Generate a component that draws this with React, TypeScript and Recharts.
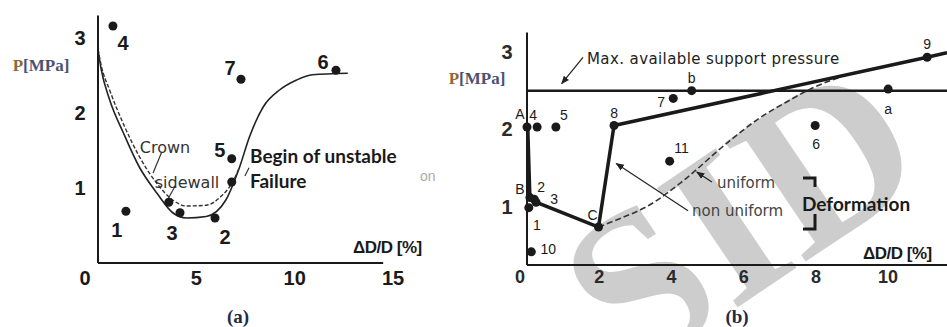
import React from 'react'
import { ComposedChart, Line, Scatter, XAxis, YAxis, ReferenceLine } from 'recharts'

// ---- panel (a) ----
const A_X_TICKS = [0, 5, 10, 15]
const A_Y_TICKS = [1, 2, 3]
const A_SOLID: [number, number][] = [
  [0, 2.85], [0.15, 2.6], [0.6, 2.17], [1.3, 1.73], [2.1, 1.28], [3.0, 0.93], [3.8, 0.67],
  [4.5, 0.6], [5.5, 0.62], [6.5, 0.84], [7.2, 1.28], [7.7, 1.68], [8.4, 2.08], [9.25, 2.31],
  [10.1, 2.44], [10.9, 2.51], [12.7, 2.53],
]
const A_DASHED: [number, number][] = [
  [0, 2.85], [0.15, 2.65], [0.6, 2.3], [1.3, 1.85], [2.1, 1.42], [3.0, 1.06], [3.8, 0.84],
  [4.5, 0.76], [5.5, 0.77], [6.3, 0.9], [6.8, 1.06], [7.2, 1.28],
]
const A_POINTS = [
  { id: '4', x: 0.76, y: 3.16 },
  { id: '1', x: 1.42, y: 0.69 },
  { id: '3', x: 4.17, y: 0.67 },
  { id: '2', x: 5.95, y: 0.6 },
  { id: '5', x: 6.8, y: 1.39 },
  { id: '7', x: 7.27, y: 2.45 },
  { id: '6', x: 12.1, y: 2.57 },
  { id: '', x: 3.6, y: 0.81 },
  { id: '', x: 6.8, y: 1.08 },
]

// ---- panel (b) ----
const B_X_TICKS = [0, 2, 4, 6, 8, 10]
const B_Y_TICKS = [1, 2, 3]
const B_MAX_PRESSURE = 2.5
const B_NON_UNIFORM: [number, number][] = [
  [0.02, 2.03], [0.08, 1.12], [0.25, 1.06], [1.98, 0.74], [2.41, 2.05], [11.08, 2.93], [11.63, 2.99],
]
const B_UNIFORM: [number, number][] = [
  [1.98, 0.74], [2.42, 0.82], [3.45, 1.04], [4.28, 1.32], [5.58, 1.84], [6.42, 2.14],
  [7.25, 2.37], [7.98, 2.55], [8.72, 2.68],
]
const B_POINTS = [
  { id: 'A', x: 0.0, y: 2.03 },
  { id: '4', x: 0.28, y: 2.03 },
  { id: '5', x: 0.8, y: 2.03 },
  { id: 'B', x: 0.08, y: 1.12 },
  { id: '2', x: 0.2, y: 1.1 },
  { id: '3', x: 0.25, y: 1.06 },
  { id: '1', x: 0.05, y: 0.99 },
  { id: '10', x: 0.12, y: 0.42 },
  { id: 'C', x: 1.98, y: 0.74 },
  { id: '8', x: 2.41, y: 2.05 },
  { id: '11', x: 3.95, y: 1.59 },
  { id: '7', x: 4.05, y: 2.4 },
  { id: 'b', x: 4.56, y: 2.5 },
  { id: '6', x: 7.98, y: 2.05 },
  { id: 'a', x: 10.0, y: 2.52 },
  { id: '9', x: 11.08, y: 2.93 },
]

// label placement (px from the dot)
const A_LABEL_OFFSET: Record<string, [number, number]> = {
  '4': [10, 17], '1': [-9, 19], '3': [-8, 20], '2': [10, 19], '7': [-11, -11], '5': [-12, -9], '6': [-13, -8],
}
const B_LABEL_OFFSET: Record<string, [number, number]> = {
  A: [-7, -13], '4': [-4, -12], '5': [8, -12], B: [-10, -9], '2': [7, -12], '3': [18, -3],
  '1': [8, 17], '10': [17, -3], C: [-6, -12], '8': [0, -13], '11': [12, -13], '7': [-12, 4],
  b: [0, -13], '6': [1, 18], a: [0, 20], '9': [0, -13],
}

const toXY = (pts: [number, number][]) => pts.map(([x, y]) => ({ x, y }))

const SANS = '"Liberation Sans", Arial, sans-serif'
const WIDE = '"DejaVu Sans", sans-serif'
const SERIF = '"Liberation Serif", "DejaVu Serif", serif'
const CAL = 'Lato, "Open Sans", sans-serif'
const INK = '#1a1a1a'

function makeTick(size: number, weight: number, dy: number, dx: (v: number) => number, fill = INK) {
  return (p: any) => (
    <text
      x={p.x + dx(p.payload.value)}
      y={p.y + dy}
      textAnchor="middle"
      dominantBaseline="central"
      fontFamily={SANS}
      fontSize={size}
      fontWeight={weight}
      fill={fill}
    >
      {p.payload.value}
    </text>
  )
}

function makeDot(offsets: Record<string, [number, number]>, r: number, size: number, weight: number) {
  return (p: any) => {
    const { cx, cy, payload } = p
    const off = offsets[payload.id]
    return (
      <g>
        <circle cx={cx} cy={cy} r={r} fill={INK} />
        {off && (
          <text
            x={cx + off[0]}
            y={cy + off[1]}
            textAnchor="middle"
            dominantBaseline="central"
            fontFamily={SANS}
            fontSize={size}
            fontWeight={weight}
            fill={INK}
          >
            {payload.id}
          </text>
        )}
      </g>
    )
  }
}

function PanelA() {
  return (
    <ComposedChart width={440} height={327} margin={{ top: 15.5, right: 47, bottom: 34, left: 68 }}>
      <XAxis
        type="number"
        dataKey="x"
        domain={[0, 15]}
        ticks={A_X_TICKS}
        axisLine={false}
        tickLine={false}
        tickSize={0}
        tickMargin={0}
        height={30}
        tick={makeTick(20, 700, 15, (v) => (v === 0 ? -13 : 0))}
      />
      <YAxis
        type="number"
        dataKey="y"
        domain={[0, 3.3]}
        ticks={A_Y_TICKS}
        axisLine={{ stroke: INK, strokeWidth: 2 }}
        tickLine={false}
        tickSize={0}
        tickMargin={0}
        width={30}
        tick={makeTick(20, 700, 0, () => -18)}
      />
      <ReferenceLine segment={[{ x: 0, y: 0 }, { x: 14.5, y: 0 }]} stroke={INK} strokeWidth={2} ifOverflow="visible" />
      <ReferenceLine segment={[{ x: 3.24, y: 1.48 }, { x: 2.8, y: 1.2 }]} stroke="#333" strokeWidth={1.2} />
      <ReferenceLine segment={[{ x: 3.91, y: 1.02 }, { x: 3.49, y: 0.82 }]} stroke="#333" strokeWidth={1.2} />
      <ReferenceLine segment={[{ x: 7.47, y: 1.16 }, { x: 7.68, y: 1.27 }]} stroke="#333" strokeWidth={1.2} />
      <Line data={toXY(A_SOLID)} dataKey="y" type="monotone" stroke="#222" strokeWidth={1.6} dot={false} isAnimationActive={false} />
      <Line data={toXY(A_DASHED)} dataKey="y" type="monotone" stroke="#333" strokeWidth={1.4} strokeDasharray="4 2" dot={false} isAnimationActive={false} />
      <Scatter data={A_POINTS} dataKey="y" shape={makeDot(A_LABEL_OFFSET, 4.5, 20, 700)} isAnimationActive={false} />
    </ComposedChart>
  )
}

function PanelB() {
  return (
    <ComposedChart width={507} height={327} margin={{ top: 32.5, right: 0, bottom: 32, left: 62 }}>
      <XAxis
        type="number"
        dataKey="x"
        domain={[0, 11.63]}
        ticks={B_X_TICKS}
        axisLine={{ stroke: INK, strokeWidth: 2 }}
        tickLine={false}
        tickSize={0}
        tickMargin={0}
        height={30}
        tick={makeTick(18, 700, 12, (v) => (v === 0 ? -7 : 0), '#2a2a2a')}
      />
      <YAxis
        type="number"
        dataKey="y"
        domain={[0.25, 3.25]}
        ticks={B_Y_TICKS}
        axisLine={{ stroke: INK, strokeWidth: 2 }}
        tickLine={false}
        tickSize={0}
        tickMargin={0}
        width={25}
        tick={makeTick(20, 700, 0, () => -20, '#2a2a2a')}
      />
      <ReferenceLine y={B_MAX_PRESSURE} stroke={INK} strokeWidth={2.5} />
      <ReferenceLine segment={[{ x: 1.55, y: 2.93 }, { x: 0.96, y: 2.59 }]} stroke="#222" strokeWidth={1.2} markerEnd="url(#arrowhead)" />
      <ReferenceLine segment={[{ x: 4.46, y: 0.95 }, { x: 2.47, y: 1.56 }]} stroke="#222" strokeWidth={1.2} markerEnd="url(#arrowhead)" />
      <ReferenceLine segment={[{ x: 5.12, y: 1.32 }, { x: 4.7, y: 1.45 }]} stroke="#222" strokeWidth={1.2} markerEnd="url(#arrowhead)" />
      <Line data={toXY(B_UNIFORM)} dataKey="y" type="monotone" stroke="#333" strokeWidth={1.6} strokeDasharray="6 3" dot={false} isAnimationActive={false} />
      <Line data={toXY(B_NON_UNIFORM)} dataKey="y" type="linear" stroke={INK} strokeWidth={3.5} dot={false} isAnimationActive={false} />
      <Scatter data={B_POINTS} dataKey="y" shape={makeDot(B_LABEL_OFFSET, 4.5, 14, 400)} isAnimationActive={false} />
    </ComposedChart>
  )
}

function Txt({ x, y, children, size = 16, weight = 400, fill = INK, family = SANS, anchor = 'start', spacing = 0 }: any) {
  return (
    <text x={x} y={y} fontSize={size} fontWeight={weight} fill={fill} fontFamily={family} textAnchor={anchor} dominantBaseline="central" letterSpacing={spacing}>
      {children}
    </text>
  )
}

function PUnit({ x, y }: { x: number; y: number }) {
  return (
    <text x={x} y={y} fontSize={17} fontWeight={700} fontFamily={SERIF} textAnchor="middle" dominantBaseline="central">
      <tspan fill="#8a6a35">P</tspan>
      <tspan fill="#4a5272">[MPa]</tspan>
    </text>
  )
}

export default function App() {
  return (
    <div style={{ position: 'absolute', left: 0, top: 0, width: 947, height: 327, background: '#fff', overflow: 'hidden' }}>
      <svg width={947} height={327} style={{ position: 'absolute', left: 0, top: 0 }}>
        <defs>
          <marker id="arrowhead" viewBox="0 0 10 10" refX="9" refY="5" markerWidth="7" markerHeight="7" orient="auto">
            <path d="M0,1 L10,5 L0,9 z" fill="#222" />
          </marker>
        </defs>
        <text
          x={630}
          y={380}
          fontSize={220}
          fontFamily={SERIF}
          fontWeight={700}
          fill="#cdcdcd"
          transform="rotate(-34 630 380)"
        >
          SID
        </text>
      </svg>
      <div style={{ position: 'absolute', left: 0, top: 0 }}>
        <PanelA />
      </div>
      <div style={{ position: 'absolute', left: 440, top: 0 }}>
        <PanelB />
      </div>
      <svg width={947} height={327} style={{ position: 'absolute', left: 0, top: 0, pointerEvents: 'none' }}>
        {/* panel (a) texts */}
        <PUnit x={41} y={65} />
        <Txt x={165} y={147} size={16} fill="#333" family={WIDE} anchor="middle">Crown</Txt>
        <Txt x={187} y={182} size={16} fill="#333" family={WIDE} anchor="middle">sidewall</Txt>
        <Txt x={250} y={155} size={19} weight={700} family={CAL}>Begin of unstable</Txt>
        <Txt x={250} y={180} size={19} weight={700} family={CAL}>Failure</Txt>
        <Txt x={420} y={176} size={14} fill="#aaa">on</Txt>
        <Txt x={353} y={247} size={17} weight={700} spacing={-0.5}>ΔD/D [%]</Txt>
        <Txt x={238} y={316} size={19} weight={700} family={SERIF} fill="#1f2a48" anchor="middle">(a)</Txt>

        {/* panel (b) texts */}
        <PUnit x={477} y={78} />
        <Txt x={587} y={59} size={15} fill="#222" family={WIDE} spacing={0.4}>Max. available support pressure</Txt>
        <Txt x={717} y={183} size={15} fill="#444" family={WIDE}>uniform</Txt>
        <Txt x={692} y={211} size={15} fill="#444" family={WIDE}>non uniform</Txt>
        <Txt x={802} y={203} size={19} weight={700} family={CAL}>Deformation</Txt>
        <path d="M803,178 H815 V187" fill="none" stroke={INK} strokeWidth={3} />
        <path d="M815,214 V229 H803" fill="none" stroke={INK} strokeWidth={3} />
        <Txt x={863} y={253} size={17} weight={700} spacing={-0.5}>ΔD/D [%]</Txt>
        <Txt x={737} y={316} size={19} weight={700} family={SERIF} fill="#1f2a48" anchor="middle">(b)</Txt>
      </svg>
    </div>
  )
}
